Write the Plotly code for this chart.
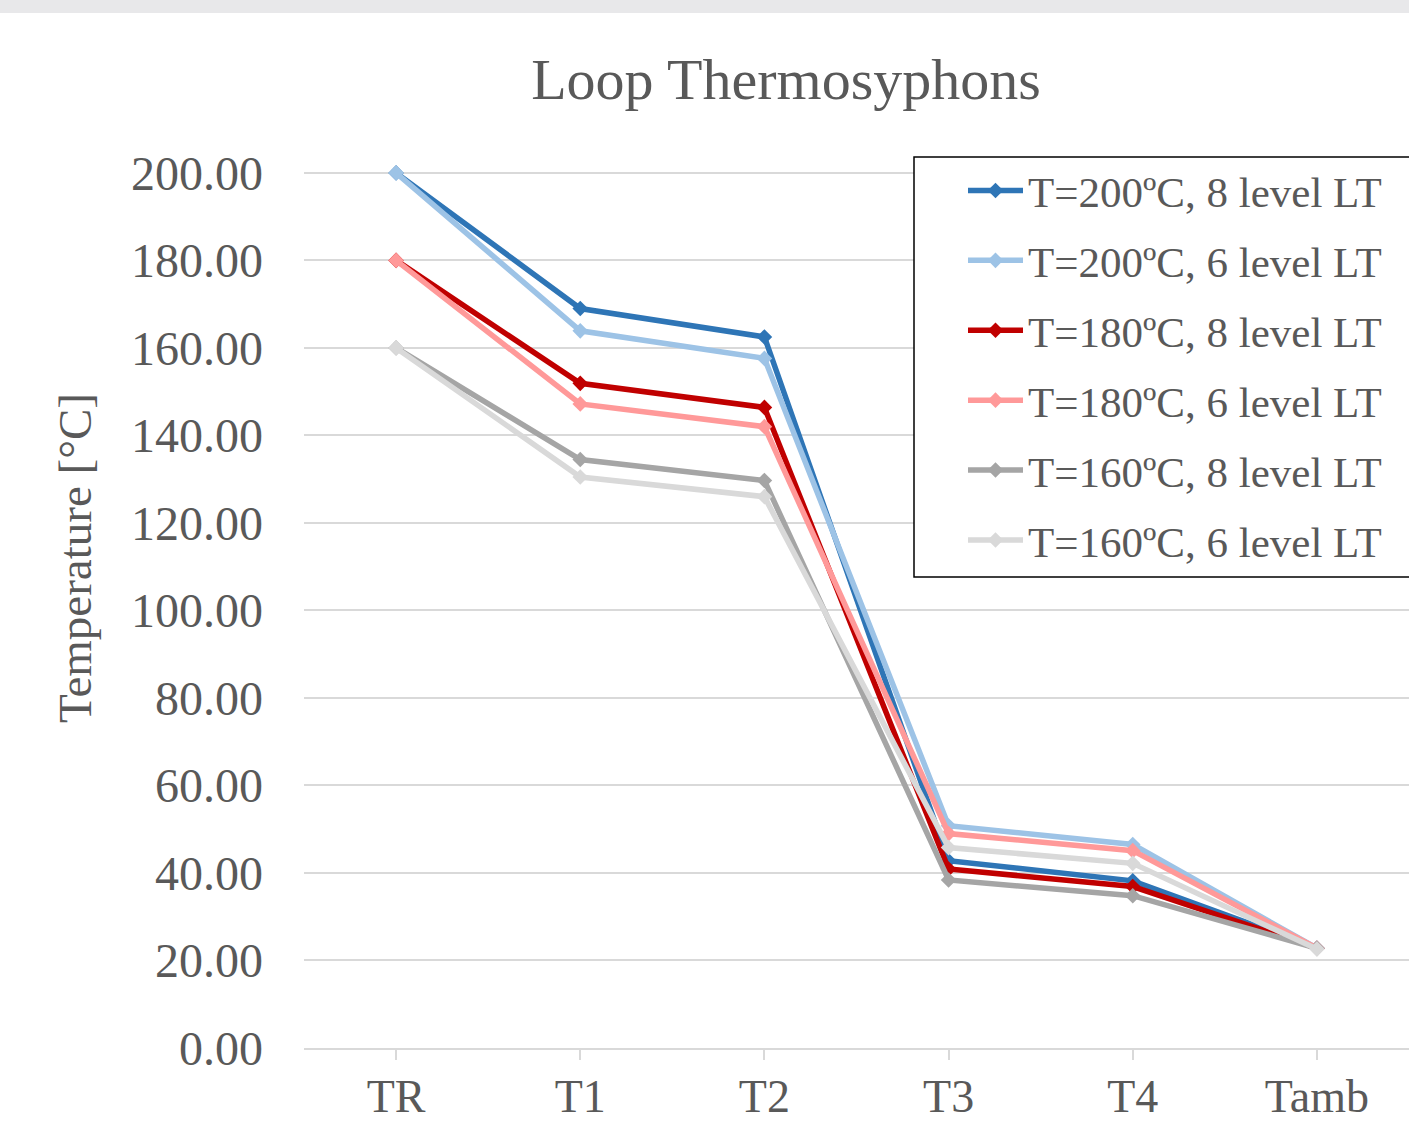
import plotly.graph_objects as go

categories = ["TR", "T1", "T2", "T3", "T4", "Tamb"]

series_names = [
    "T=200ºC, 8 level LT",
    "T=200ºC, 6 level LT",
    "T=180ºC, 8 level LT",
    "T=180ºC, 6 level LT",
    "T=160ºC, 8 level LT",
    "T=160ºC, 6 level LT",
]

t200_8 = [200.0, 169.0, 162.5, 42.8, 38.2, 22.8]
t200_6 = [200.0, 163.9, 157.6, 50.8, 46.5, 22.8]
t180_8 = [180.0, 151.9, 146.4, 40.9, 36.9, 22.8]
t180_6 = [180.0, 147.2, 142.0, 49.0, 45.1, 22.8]
t160_8 = [160.0, 134.5, 129.7, 38.4, 34.8, 22.8]
t160_6 = [160.0, 130.5, 126.0, 45.8, 42.2, 22.6]

series_values = [t200_8, t200_6, t180_8, t180_6, t160_8, t160_6]
colors = ["#2e75b6", "#9dc3e6", "#c00000", "#ff9999", "#a5a5a5", "#d9d9d9"]

y_ticks = [0, 20, 40, 60, 80, 100, 120, 140, 160, 180, 200]

FONT = "Liberation Serif, Times New Roman, serif"
TXT = "#595959"

# layout geometry (pixels)
L, R, T, B = 304, 1409, 151, 1048
PW, PH = R - L, B - T


def px_x(p):
    return (p - L) / PW


def px_y(p):
    return (B - p) / PH


fig = go.Figure()
for i, (name, vals, col) in enumerate(zip(series_names, series_values, colors)):
    fig.add_trace(go.Scatter(
        x=categories, y=vals, name=name, mode="lines+markers",
        line=dict(color=col, width=5.5),
        marker=dict(symbol="diamond", size=12, color=col),
        legendgroup=f"g{i}",
    ))

fig.update_layout(
    width=1409, height=1125,
    paper_bgcolor="white", plot_bgcolor="white",
    margin=dict(l=L, r=1409 - R, t=T, b=1125 - B, autoexpand=False),
    font=dict(family=FONT, color=TXT, size=46),
    title=dict(text="Loop Thermosyphons", font=dict(family=FONT, size=58, color=TXT),
               x=786 / 1409, xanchor="center", xref="container",
               y=1 - 79 / 1125, yanchor="middle", yref="container"),
    showlegend=True,
    legend=dict(
        x=px_x(963), xanchor="left", xref="paper",
        y=px_y(156), yanchor="top", yref="paper",
        bgcolor="rgba(0,0,0,0)", borderwidth=0,
        font=dict(family=FONT, size=43, color=TXT),
        tracegroupgap=11, traceorder="grouped", itemwidth=55,
    ),
    xaxis=dict(
        type="category", range=[-0.5, 5.5],
        showgrid=False, showline=True, linecolor="#d9d9d9", linewidth=2,
        ticks="outside", ticklen=10, tickcolor="#d9d9d9", tickwidth=2,
        tickfont=dict(family=FONT, size=46, color=TXT),
        ticklabelstandoff=-3,
    ),
    yaxis=dict(
        range=[0, 205], tickvals=y_ticks, ticktext=[f"{v:.2f}" for v in y_ticks],
        showgrid=True, gridcolor="#d9d9d9", gridwidth=2,
        zeroline=False, showline=False, ticks="",
        tickfont=dict(family=FONT, size=48, color=TXT),
        ticklabelstandoff=40,
    ),
    annotations=[dict(
        text="Temperature [°C]", textangle=-90, showarrow=False,
        xref="paper", yref="paper", x=px_x(75), y=px_y(558),
        xanchor="center", yanchor="middle",
        font=dict(family=FONT, size=47, color=TXT),
    )],
    shapes=[
        dict(type="rect", xref="paper", yref="paper",
             x0=px_x(-10), x1=px_x(1420), y0=px_y(13), y1=px_y(-5),
             fillcolor="#e8e8ea", line=dict(width=0), layer="above"),
        dict(type="rect", xref="paper", yref="paper",
             x0=px_x(914), x1=px_x(1430), y0=px_y(577), y1=px_y(157),
             fillcolor="white", line=dict(color="black", width=1.5), layer="above"),
    ],
)

fig.write_html("out.html")
